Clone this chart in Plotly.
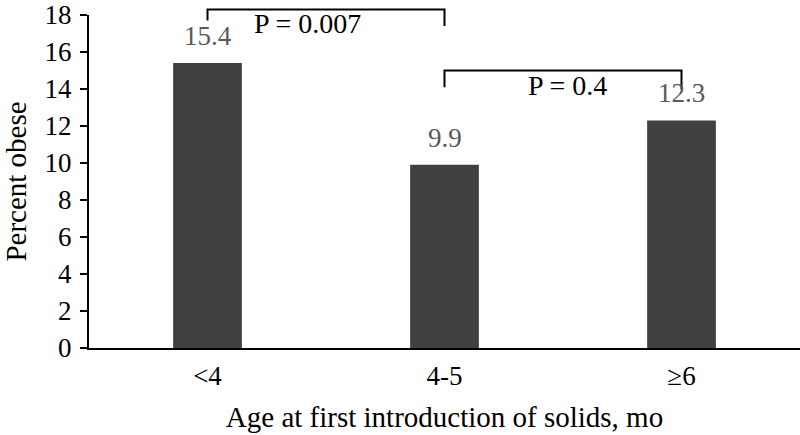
import plotly.graph_objects as go

categories = ["<4", "4-5", "≥6"]
values = [15.4, 9.9, 12.3]
value_labels = ["15.4", "9.9", "12.3"]

# significance brackets: (left index, right index), top, left leg end, right leg end
bracket_pairs = [(0, 1), (1, 2)]
bracket_top = [18.3, 15.0]
bracket_left_end = [17.7, 14.1]
bracket_right_end = [17.4, 14.0]
p_labels = ["P = 0.007", "P = 0.4"]
p_x = [0.42, 1.52]
p_y = [17.55, 14.17]

y_max = 18
y_ticks = [0, 2, 4, 6, 8, 10, 12, 14, 16, 18]

FONT = "Liberation Serif, Times New Roman, serif"

fig = go.Figure()
fig.add_trace(go.Bar(x=categories, y=values, marker=dict(color="#404040", line=dict(width=0)),
                     showlegend=False, hoverinfo="skip"))

n = len(categories)


def xp(i):
    # category index -> paper fraction (category axis spans -0.5 .. n-0.5)
    return (i + 0.5) / n


def yp(v):
    return v / y_max


shapes = []
for (i, j), top, le, re in zip(bracket_pairs, bracket_top, bracket_left_end, bracket_right_end):
    path = "M {:.5f},{:.5f} L {:.5f},{:.5f} L {:.5f},{:.5f} L {:.5f},{:.5f}".format(
        xp(i), yp(le), xp(i), yp(top), xp(j), yp(top), xp(j), yp(re))
    shapes.append(dict(type="path", path=path, xref="paper", yref="paper",
                       line=dict(color="black", width=2)))

annotations = []
for c, v, t in zip(categories, values, value_labels):
    annotations.append(dict(x=c, y=v, text=t, showarrow=False, yanchor="bottom",
                            yshift=10, font=dict(family=FONT, size=27, color="#595959")))
for t, x, y in zip(p_labels, p_x, p_y):
    annotations.append(dict(x=x, y=y, text=t, showarrow=False, xref="x", yref="y",
                            font=dict(family=FONT, size=28, color="black")))

fig.update_layout(
    width=800, height=435,
    margin=dict(l=89, r=0, t=10, b=87),
    paper_bgcolor="white", plot_bgcolor="white",
    bargap=0.71,
    font=dict(family=FONT, size=27, color="black"),
    annotations=annotations,
    shapes=shapes,
    xaxis=dict(showline=True, linecolor="black", linewidth=2, ticks="",
               tickfont=dict(size=27), showgrid=False, ticklabelstandoff=3,
               title=dict(text="Age at first introduction of solids, mo", font=dict(size=29), standoff=16)),
    yaxis=dict(range=[0, y_max], tickvals=y_ticks, showline=True, linecolor="black", linewidth=2,
               ticks="outside", ticklen=7, tickwidth=2, tickcolor="black", showgrid=False,
               zeroline=False, tickfont=dict(size=27), ticklabeloverflow="allow",
               ticklabelstandoff=3,
               title=dict(text="Percent obese", font=dict(size=29), standoff=21)),
)

fig.write_html("out.html", post_script="document.body.style.margin='0';",
               config={"displayModeBar": False})
